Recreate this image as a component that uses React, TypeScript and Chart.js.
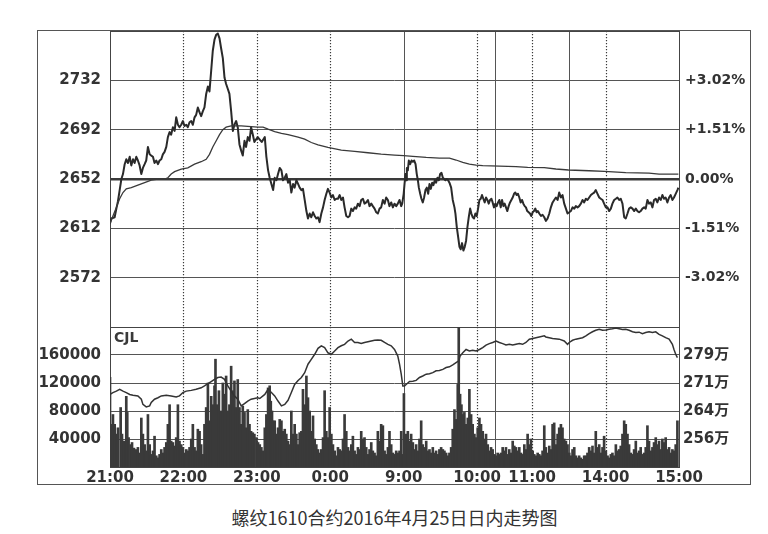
import React, { useEffect, useRef } from "react";
import { Chart, registerables } from "chart.js";

Chart.register(...registerables);

// ---------- axis / label data ----------
const timeTicks = [0, 60, 120, 180, 240, 300, 345, 405, 465]; // trading minutes since 21:00
const timeLabels = ["21:00", "22:00", "23:00", "0:00", "9:00", "10:00", "11:00", "14:00", "15:00"];
const hourLines = [60, 120, 180, 300, 345, 405]; // dotted
const sessionBreaks = [240, 315, 375]; // solid
const PRE_CLOSE = 2652;
const priceTicks = [2572, 2612, 2652, 2692, 2732];
const pctTicks = [-3.02, -1.51, 0, 1.51, 3.02];
const volTicks = [40000, 80000, 120000, 160000];
const oiTicks = [256.2, 263.8, 271.4, 279.0];
const caption = "螺纹1610合约2016年4月25日日内走势图";

// ---------- series data: [minute, value] ----------
const priceNight: number[][] = [
  [0,2616],[1.1,2620],[3.8,2621],[5.2,2628],[6.5,2634],[7.9,2643],[9.3,2652],[10.6,2656],[12,2664],[13.3,2668],
  [14.7,2665],[16.1,2670],[17.4,2663],[18.8,2668],[20.1,2665],[21.5,2670],[22.8,2667],[24.2,2663],[25.6,2656],[26.9,2661],
  [28.3,2664],[29.6,2667],[31,2678],[32.4,2672],[33.7,2671],[35.1,2670],[36.4,2665],[37.8,2667],[39.2,2664],[40.5,2667],
  [41.9,2668],[43.2,2672],[44.6,2674],[46,2678],[47.3,2686],[48.7,2690],[50,2688],[51.4,2694],[52.8,2691],[54.1,2702],
  [55.5,2696],[56.8,2694],[58.2,2696],[59.6,2699],[60.9,2695],[62.3,2696],[63.6,2694],[65,2698],[66.4,2699],[67.7,2696],
  [69.1,2702],[70.4,2704],[71.8,2710],[73.2,2706],[74.5,2703],[75.9,2707],[77.2,2710],[78.6,2721],[80,2727],[81.3,2723],
  [82.7,2740],[84,2756],[85.4,2765],[86.8,2769],[88.1,2770],[89.5,2766],[90.8,2758],[92.2,2750],[93.6,2734],[94.9,2729],
  [96.3,2725],[97.6,2721],[99,2707],[100.4,2691],[101.7,2696],[103.1,2699],[104.4,2694],[105.8,2680],[107.2,2675],[108.5,2671],
  [109.9,2683],[111.2,2678],[112.6,2686],[114,2683],[115.3,2694],[116.7,2688],[118,2682],[120.7,2686],[122.4,2684],[124,2682],
  [126.5,2686],[127.8,2670],[129.2,2659],[130.5,2653],[131.9,2648],[133.3,2643],[134.6,2653],[136,2651],[137.3,2656],[138.7,2661],
  [140.1,2659],[141.4,2651],[142.8,2653],[144.1,2656],[145.5,2649],[146.9,2651],[148.2,2641],[149.6,2648],[150.9,2645],[152.3,2651],
  [153.7,2648],[155,2645],[156.4,2643],[157.7,2644],[159.1,2635],[160.5,2626],[161.8,2620],[163.2,2624],[164.5,2621],[165.9,2625],
  [167.3,2622],[168.6,2620],[170,2621],[171.3,2617],[172.7,2624],[174.1,2629],[175.4,2635],[176.8,2640],[178.1,2644],[179.5,2641],
  [180.9,2637],[182.2,2639],[183.6,2635],[184.9,2636],[186.3,2636],[187.7,2639],[189,2635],[190.4,2637],[191.7,2629],[193.1,2622],
  [194.5,2621],[195.8,2622],[197.2,2628],[198.5,2626],[199.9,2629],[201.2,2628],[202.6,2632],[204,2630],[205.3,2635],[206.7,2636],
  [208,2632],[209.4,2633],[210.8,2635],[212.1,2630],[213.5,2632],[214.8,2630],[216.2,2628],[217.6,2625],[218.9,2624],[220.3,2628],
  [221.6,2629],[223,2635],[224.4,2632],[225.7,2637],[227.1,2635],[228.4,2630],[229.8,2633],[231.2,2629],[232.5,2632],[233.9,2630],
  [235.2,2632],[236.6,2635],[238,2630],[238.8,2632]
];

const priceDay: number[][] = [
  [240,2640],[240.7,2648],[241.5,2656],[242,2651],[242.6,2661],[243.4,2659],[244.2,2667],[245.3,2664],[246.4,2667],[247.5,2666],
  [248.6,2667],[249.7,2664],[250.7,2656],[251.6,2651],[252.4,2645],[253.5,2640],[254.5,2636],[255.6,2633],[256.7,2637],[257.8,2643],
  [258.9,2645],[260,2640],[261.1,2648],[262.2,2644],[263.3,2649],[264.3,2647],[265.4,2651],[266.5,2649],[267.6,2653],[268.7,2651],
  [269.8,2656],[270.9,2657],[272,2653],[273,2652],[274.1,2651],[275.2,2652],[276.3,2651],[277.4,2649],[278.8,2645],[280.1,2635],
  [281.5,2629],[282.3,2624],[283.4,2613],[284.5,2605],[285.6,2597],[286.6,2595],[287.7,2600],[288.8,2594],[289.9,2597],[291,2602],
  [292.1,2613],[293.2,2621],[294.3,2628],[295.3,2624],[296.4,2621],[297.5,2620],[298.6,2624],[299.7,2622],[300.8,2628],[301.9,2635],
  [303,2636],[304,2639],[305.1,2636],[306.2,2633],[307.3,2637],[308.4,2635],[309.5,2632],[310.6,2635],[311.7,2636],[312.7,2633],
  [313.8,2629],[314.9,2632],[316,2630],[317.1,2633],[318.2,2635],[319.3,2629],[320.4,2635],[321.5,2630],[322.5,2632],[323.6,2629],
  [324.7,2626],[325.8,2630],[326.9,2633],[328,2635],[329.1,2637],[330.2,2640],[331.2,2641],[332.3,2639],[333.4,2640],[334.5,2637],
  [335.6,2633],[336.7,2635],[337.8,2632],[338.9,2630],[339.9,2629],[341,2626],[342.1,2625],[343.2,2624],[344.3,2622],[345.4,2625],
  [346.5,2626],[347.6,2628],[348.6,2625],[349.7,2626],[350.8,2624],[352.2,2622],[353.5,2623],[354.9,2621],[356.2,2618],[357.6,2620],
  [359,2624],[360.3,2629],[361.7,2633],[363,2635],[364.4,2637],[365.8,2635],[367.1,2641],[368.5,2637],[369.8,2639],[371.2,2632],
  [372.6,2628],[373.9,2624],[375.3,2625],[376.6,2626],[378,2629],[379.4,2628],[380.7,2630],[382.1,2629],[383.4,2630],[384.8,2632],
  [386.2,2635],[387.5,2633],[388.9,2636],[390.2,2635],[391.6,2637],[393,2639],[394.3,2640],[395.7,2641],[397,2643],[398.4,2640],
  [399.8,2637],[401.1,2636],[402.5,2635],[403.8,2632],[405.2,2629],[406.6,2629],[407.9,2626],[409.3,2628],[410.6,2632],[412,2635],
  [413.4,2636],[414.7,2637],[416.1,2635],[417.4,2636],[418.8,2632],[420.2,2621],[421.5,2620],[422.9,2624],[424.2,2628],[425.6,2629],
  [427,2628],[428.3,2626],[429.7,2628],[431,2626],[432.4,2625],[433.7,2626],[435.1,2628],[436.5,2629],[437.8,2628],[439.2,2635],
  [440.5,2632],[441.9,2633],[443.3,2629],[444.6,2635],[446,2636],[447.3,2633],[448.7,2637],[450.1,2635],[451.4,2639],[452.8,2636],
  [454.1,2637],[455.5,2633],[456.9,2637],[458.2,2639],[459.6,2635],[460.9,2637],[462.3,2640],[463.7,2643],[464.5,2645]
];

const avgPrice: number[][] = [
  [0,2616],[2.4,2622],[5.2,2629],[7.9,2636],[10.6,2641],[13.3,2644],[17.4,2645],[22.8,2647],[28.3,2649],[33.7,2651],
  [39.2,2652],[44.6,2652],[47.3,2653],[50,2656],[52.8,2658],[58.2,2660],[63.6,2661],[69.1,2664],[74.5,2666],[78.6,2668],
  [81.3,2672],[84,2678],[86.8,2683],[89.5,2688],[92.2,2692],[94.9,2694],[99,2695],[107.2,2695],[115.3,2694.5],[120.7,2694],
  [125.1,2694],[129.2,2692.4],[134.6,2690.5],[140.1,2689],[145.5,2688],[153.7,2686],[159.1,2684.3],[164.5,2681.6],[170,2679.7],[178.1,2677.6],
  [189,2675.4],[199.9,2674.4],[210.8,2673.3],[221.6,2672.2],[232.5,2671.4],[240,2670.9],[247.5,2670.3],[258.4,2669.5],[269.2,2669],[277.4,2669],
  [282.8,2667.4],[288.3,2665.5],[293.7,2664.1],[299.2,2663.3],[304.6,2662.8],[318.2,2662.5],[331.8,2662],[341.3,2661.4],[354.9,2661.2],[364.4,2660.1],
  [374.7,2659.3],[391.6,2658.7],[404.1,2658.2],[421.5,2657.1],[440.5,2656.8],[448.7,2656],[464.5,2656]
];

const volumeNight: number[][] = [
  [0,128000],[1.1,61000],[2.4,75000],[3.8,61000],[5.2,47000],[6.5,56000],[8.7,85000],[9.8,47000],[11.4,37000],[13.3,101000],
  [14.1,78000],[15.2,42000],[16.9,32000],[18,35000],[19.6,27000],[21.5,25000],[22.8,28000],[24.2,20000],[25.6,70000],[26.9,47000],
  [28.3,32000],[29.6,23000],[31,75000],[32.4,32000],[33.7,18000],[35.1,23000],[36.4,44000],[37.8,16000],[39.2,13000],[40.5,18000],
  [41.9,25000],[43.2,20000],[44.6,28000],[46,35000],[47.3,61000],[48.7,89000],[50,37000],[51.4,35000],[52.8,30000],[54.1,42000],
  [55.5,89000],[56.8,37000],[58.2,32000],[59.6,28000],[60.9,20000],[62.3,25000],[63.6,23000],[65,28000],[66.4,40000],[67.7,61000],
  [69.1,28000],[70.4,23000],[71.8,54000],[73.2,51000],[74.5,32000],[75.9,18000],[77.2,61000],[78.6,85000],[80,120000],[81.3,66000],
  [82.7,101000],[84,89000],[85.4,116000],[86.2,154000],[87.6,89000],[89,109000],[90.8,80000],[92.2,120000],[93.6,104000],[94.9,130000],
  [96.3,80000],[97.6,89000],[99,144000],[100.4,109000],[101.7,123000],[103.1,85000],[104.4,125000],[105.8,85000],[107.2,61000],[108.5,87000],
  [109.9,78000],[111.2,56000],[112.6,82000],[114,61000],[115.3,51000],[116.7,49000],[118,47000],[119.7,42000],[121,35000],[122.4,32000],
  [123.7,28000],[125.1,23000],[126.5,56000],[127.8,75000],[129.2,113000],[130.5,116000],[131.4,94000],[132.4,80000],[133.3,66000],[134.6,66000],
  [136,47000],[137.3,56000],[138.7,68000],[140.1,66000],[141.4,51000],[142.8,54000],[144.1,47000],[145.5,37000],[146.9,32000],[148.2,80000],
  [149.6,47000],[150.9,61000],[152.3,47000],[153.7,32000],[155,49000],[156.4,51000],[157.7,111000],[159.1,89000],[160.5,130000],[161.8,99000],
  [163.2,80000],[164.5,51000],[165.9,73000],[167.3,40000],[168.6,32000],[170,25000],[171.3,20000],[172.7,25000],[174.1,42000],[175.4,109000],
  [176.8,51000],[178.1,42000],[179.5,85000],[180.9,47000],[182.2,32000],[183.6,23000],[184.9,16000],[186.3,28000],[187.7,25000],[189,23000],
  [190.4,40000],[191.7,75000],[193.1,51000],[194.5,28000],[195.8,23000],[197.2,32000],[198.5,44000],[199.9,23000],[201.2,18000],[202.6,28000],
  [204,25000],[205.3,51000],[206.7,40000],[208,42000],[209.4,28000],[210.8,18000],[212.1,25000],[213.5,35000],[214.8,23000],[216.2,20000],
  [217.6,16000],[218.9,51000],[220.3,37000],[221.6,61000],[223,59000],[224.4,23000],[225.7,18000],[227.1,28000],[228.4,51000],[229.8,32000],
  [231.2,20000],[232.5,18000],[233.9,23000],[235.2,20000],[236.6,23000],[238,51000],[239.3,18000]
];

const volumeDay: number[][] = [
  [240.2,105000],[242,47000],[243.4,51000],[244.8,37000],[246.1,47000],[247.5,35000],[248.8,25000],[250.2,32000],[251.6,23000],[252.9,40000],
  [254.3,66000],[255.6,32000],[257,28000],[258.4,37000],[259.7,23000],[261.1,25000],[262.4,20000],[263.8,28000],[265.2,20000],[266.5,23000],
  [267.9,18000],[269.2,25000],[270.6,28000],[272,25000],[273.3,23000],[274.7,20000],[276,16000],[277.4,20000],[278.8,28000],[280.1,54000],
  [281.5,82000],[282.8,68000],[284.2,118000],[285,200000],[286.1,104000],[287.2,89000],[288.3,75000],[289.6,78000],[291,61000],[292.4,70000],
  [293.7,111000],[295.1,75000],[296.4,61000],[297.8,47000],[299.2,42000],[300.5,56000],[301.9,70000],[303.2,61000],[304.6,51000],[305.9,40000],
  [307.3,47000],[308.7,32000],[310,23000],[311.4,28000],[312.7,25000],[314.1,18000],[315.5,16000],[316.8,20000],[318.2,18000],[319.5,20000],
  [320.9,28000],[322.3,23000],[323.6,28000],[325,18000],[326.3,25000],[327.7,20000],[329.1,37000],[330.4,30000],[331.8,28000],[333.1,23000],
  [334.5,28000],[335.9,20000],[337.2,18000],[338.6,32000],[339.9,25000],[341.3,47000],[342.7,32000],[344,40000],[345.4,23000],[346.7,18000],
  [348.1,16000],[349.5,20000],[350.8,18000],[352.2,16000],[353.5,23000],[354.9,59000],[356.2,28000],[357.6,20000],[359,30000],[360.3,25000],
  [361.7,61000],[363,63000],[364.4,32000],[365.8,47000],[367.1,56000],[368.5,61000],[369.8,56000],[371.2,40000],[372.6,37000],[373.9,32000],
  [375.3,20000],[376.6,16000],[378,25000],[379.4,28000],[380.7,16000],[382.1,13000],[383.4,16000],[384.8,13000],[386.2,11000],[387.5,16000],
  [388.9,16000],[390.2,20000],[391.6,28000],[393,23000],[394.3,30000],[395.7,20000],[397,51000],[398.4,28000],[399.8,32000],[401.1,20000],
  [402.5,28000],[403.8,44000],[405.2,23000],[406.6,16000],[407.9,13000],[409.3,18000],[410.6,20000],[412,16000],[413.4,32000],[414.7,23000],
  [416.1,25000],[417.4,30000],[418.8,47000],[420.2,66000],[421.5,61000],[422.9,47000],[424.2,32000],[425.6,20000],[427,18000],[428.3,25000],
  [429.7,37000],[431,20000],[432.4,23000],[433.7,28000],[435.1,18000],[436.5,20000],[437.8,28000],[439.2,59000],[440.5,37000],[441.9,23000],
  [443.3,28000],[444.6,35000],[446,42000],[447.3,32000],[448.7,37000],[450.1,25000],[451.4,40000],[452.8,35000],[454.1,42000],[455.5,25000],
  [456.9,28000],[458.2,20000],[459.6,25000],[460.9,23000],[462.3,32000],[463.7,66000]
];

// open interest, in 万 (10k contracts)
const openInterest: number[][] = [
  [0,268.3],[2.4,268.8],[5.2,269.2],[7.9,269.7],[10.6,269.2],[13.3,268.8],[16.1,268.3],[18.8,268.1],[22.8,267.9],[25.6,267.0],
  [26.9,265.6],[29.6,264.9],[32.4,265.2],[33.7,266.1],[36.4,267.0],[39.2,267.4],[41.9,267.9],[46,268.1],[50,267.9],[54.1,267.6],
  [56.8,267.9],[59.6,268.8],[62.3,269.2],[66.4,269.4],[70.4,269.7],[74.5,270.1],[77.2,270.6],[80,271.2],[82.7,271.8],[85.4,272.4],
  [88.1,272.9],[90.8,273.0],[93.6,272.4],[96.3,270.6],[99,269.2],[101.7,267.9],[104.4,267.0],[107.2,265.2],[109.9,265.8],[112.6,266.5],
  [115.3,267.0],[118,267.2],[120.7,267.4],[122.4,267.2],[126.5,268.3],[129.2,269.7],[131.9,268.8],[134.6,267.9],[137.3,266.5],[140.1,265.2],
  [142.8,265.6],[145.5,266.7],[148.2,268.8],[150.9,271.0],[153.7,272.1],[156.4,272.9],[159.1,274.2],[161.8,276.5],[164.5,277.8],[167.3,279.2],
  [170,280.8],[172.7,281.5],[175.4,281.0],[178.1,279.6],[180.9,279.2],[183.6,280.1],[186.3,281.0],[189,281.5],[191.7,281.9],[194.5,282.8],
  [197.2,283.3],[199.9,282.4],[202.6,282.4],[205.3,282.1],[208,282.4],[210.8,282.6],[213.5,282.8],[216.2,283.0],[218.9,283.1],[221.6,283.0],
  [224.4,282.4],[227.1,281.9],[229.8,281.5],[232.5,280.5],[235.2,278.7],[236.6,276.5],[238,273.8],[239.3,270.6],[240.7,270.6],[242,271.0],
  [244.8,271.8],[247.5,271.9],[250.2,272.1],[252.9,272.9],[255.6,273.3],[258.4,273.8],[261.1,273.9],[263.8,274.2],[266.5,274.7],[269.2,274.8],
  [272,275.1],[274.7,275.6],[277.4,275.8],[280.1,276.3],[282.8,276.9],[285,277.4],[286.1,278.7],[288.3,279.6],[291,280.5],[293.7,280.1],
  [296.4,280.3],[299.2,280.1],[301.9,280.5],[304.6,281.0],[307.3,281.7],[310,282.1],[312.7,282.4],[315.5,282.8],[318.2,282.4],[320.9,282.1],
  [323.6,281.7],[326.3,281.9],[329.1,281.7],[331.8,281.9],[334.5,282.1],[337.2,281.9],[339.9,282.4],[342.7,283.3],[345.4,283.5],[348.1,283.7],
  [350.8,283.9],[354.9,284.2],[356.2,283.9],[361.7,283.5],[367.1,283.3],[371.2,282.8],[373.9,281.9],[375.3,282.4],[378,283.0],[380.7,283.3],
  [383.4,283.5],[386.2,283.7],[388.9,284.2],[391.6,284.8],[394.3,285.3],[397,285.7],[399.8,286.0],[402.5,285.7],[405.2,285.8],[407.9,286.0],
  [410.6,286.1],[413.4,286.3],[416.1,286.1],[418.8,285.9],[421.5,286.0],[424.2,285.7],[427,285.3],[429.7,285.1],[432.4,285.2],[435.1,284.8],
  [437.8,285.1],[440.5,285.3],[443.3,285.1],[446,285.3],[448.7,284.6],[451.4,284.2],[454.1,283.7],[456.9,283.3],[459.6,281.9],[460.9,280.5],
  [462.3,279.2],[463.7,278.3]
];

// ---------- styling ----------
const FONT = "'DejaVu Sans', 'Noto Sans CJK SC', sans-serif";
const INK = "#333333";
const GRID = "#555555";
const PRICE_SPAN = 120; // ± around previous close
const OI_MIN = 248.6;
const OI_MAX = 286.6;

const toXY = (pts: number[][]) => pts.map(([x, y]) => ({ x, y }));

const fixWidth = (w: number) => (s: any) => {
  s.width = w;
  s.paddingTop = 0;
  s.paddingBottom = 0;
};

const panelPlugin = (label?: string) => ({
  id: "panelFrame",
  beforeDatasetsDraw(chart: any) {
    const { ctx, chartArea: a, scales } = chart;
    const xs = scales.x;
    ctx.save();
    ctx.strokeStyle = "#3a3a3a";
    ctx.lineWidth = 1.2;
    ctx.setLineDash([1.3, 1.7]);
    for (const m of hourLines) {
      const px = Math.round(xs.getPixelForValue(m)) + 0.5;
      ctx.beginPath();
      ctx.moveTo(px, a.top);
      ctx.lineTo(px, a.bottom);
      ctx.stroke();
    }
    ctx.setLineDash([]);
    ctx.lineWidth = 1;
    ctx.strokeStyle = GRID;
    for (const m of sessionBreaks) {
      const px = Math.round(xs.getPixelForValue(m)) + 0.5;
      ctx.beginPath();
      ctx.moveTo(px, a.top);
      ctx.lineTo(px, a.bottom);
      ctx.stroke();
    }
    ctx.strokeStyle = "#444";
    ctx.strokeRect(Math.round(a.left) + 0.5, Math.round(a.top) + 0.5, Math.round(a.right - a.left), Math.round(a.bottom - a.top));
    if (label) {
      ctx.fillStyle = "#3a3a3a";
      ctx.font = `bold 14px ${FONT}`;
      ctx.textBaseline = "alphabetic";
      ctx.textAlign = "left";
      ctx.fillText(label, a.left + 4, a.top + 15);
    }
    ctx.restore();
  },
});

const tickFont = (size: number) => ({ family: FONT, size, weight: "bold" as const });

export default function App() {
  const priceRef = useRef<HTMLCanvasElement>(null);
  const volRef = useRef<HTMLCanvasElement>(null);

  useEffect(() => {
    const common = {
      animation: false as const,
      responsive: true,
      maintainAspectRatio: false,
      events: [] as any[],
      plugins: { legend: { display: false }, tooltip: { enabled: false } },
    };

    const c1 = new Chart(priceRef.current!, {
      type: "line",
      data: {
        datasets: [
          {
            data: toXY(avgPrice),
            borderColor: "#3a3a3a",
            borderWidth: 1.3,
            pointRadius: 0,
            tension: 0,
            yAxisID: "y",
          },
          {
            data: toXY([...priceNight, ...priceDay]),
            borderColor: "#2a2a2a",
            borderWidth: 2,
            borderJoinStyle: "round",
            pointRadius: 0,
            tension: 0,
            yAxisID: "y",
          },
        ],
      },
      options: {
        ...common,
        layout: { padding: { top: 1, bottom: 1, left: 0, right: 0 } },
        scales: {
          x: { type: "linear", display: false, min: 0, max: 465 },
          y: {
            type: "linear",
            position: "left",
            min: PRE_CLOSE - PRICE_SPAN,
            max: PRE_CLOSE + PRICE_SPAN,
            afterBuildTicks: (s: any) => {
              s.ticks = priceTicks.map((v) => ({ value: v }));
            },
            afterFit: fixWidth(73),
            ticks: { font: tickFont(15), color: INK, padding: 9, callback: (v: any) => String(v) },
            grid: {
              color: (c: any) => (c.tick && c.tick.value === PRE_CLOSE ? "#3a3a3a" : GRID),
              lineWidth: (c: any) => (c.tick && c.tick.value === PRE_CLOSE ? 2.6 : 1),
              drawTicks: false,
            },
            border: { display: false },
          },
          y2: {
            type: "linear",
            position: "right",
            min: (-PRICE_SPAN / PRE_CLOSE) * 100,
            max: (PRICE_SPAN / PRE_CLOSE) * 100,
            afterBuildTicks: (s: any) => {
              s.ticks = pctTicks.map((v) => ({ value: v }));
            },
            afterFit: fixWidth(72),
            ticks: {
              font: tickFont(14),
              color: INK,
              padding: 6,
              callback: (v: any) => (v > 0 ? "+" : "") + Number(v).toFixed(2) + "%",
            },
            grid: { display: false, drawTicks: false },
            border: { display: false },
          },
        },
      },
      plugins: [panelPlugin()],
    } as any);

    const c2 = new Chart(volRef.current!, {
      type: "bar",
      data: {
        datasets: [
          {
            type: "line",
            data: toXY(openInterest),
            borderColor: "#333",
            borderWidth: 1.5,
            pointRadius: 0,
            tension: 0,
            yAxisID: "yo",
            order: 0,
          },
          {
            type: "bar",
            data: toXY([...volumeNight, ...volumeDay]),
            backgroundColor: "#3a3a3a",
            borderWidth: 0,
            barThickness: 2,
            grouped: false,
            yAxisID: "yv",
            order: 1,
          },
        ],
      },
      options: {
        ...common,
        layout: { padding: { top: 1, bottom: 0, left: 0, right: 0 } },
        scales: {
          x: {
            type: "linear",
            min: 0,
            max: 465,
            offset: false,
            afterBuildTicks: (s: any) => {
              s.ticks = timeTicks.map((v) => ({ value: v }));
            },
            afterFit: (s: any) => {
              s.height = 18;
              s.paddingLeft = 0;
              s.paddingRight = 0;
            },
            ticks: {
              font: tickFont(15),
              color: INK,
              padding: 2,
              autoSkip: false,
              maxRotation: 0,
              callback: (v: any) => {
                const i = timeTicks.indexOf(Number(v));
                return i >= 0 ? timeLabels[i] : "";
              },
            },
            grid: { display: false, drawTicks: false },
            border: { display: false },
          },
          yv: {
            type: "linear",
            position: "left",
            min: 0,
            max: 200000,
            afterBuildTicks: (s: any) => {
              s.ticks = volTicks.map((v) => ({ value: v }));
            },
            afterFit: fixWidth(73),
            ticks: { font: tickFont(15), color: INK, padding: 9, callback: (v: any) => String(v) },
            grid: { color: GRID, lineWidth: 1, drawTicks: false },
            border: { display: false },
          },
          yo: {
            type: "linear",
            position: "right",
            min: OI_MIN,
            max: OI_MAX,
            afterBuildTicks: (s: any) => {
              s.ticks = oiTicks.map((v) => ({ value: v }));
            },
            afterFit: fixWidth(72),
            ticks: {
              font: tickFont(15),
              color: INK,
              padding: 4,
              callback: (v: any) => Math.round(Number(v)) + "万",
            },
            grid: { display: false, drawTicks: false },
            border: { display: false },
          },
        },
      },
      plugins: [panelPlugin("CJL")],
    } as any);

    return () => {
      c1.destroy();
      c2.destroy();
    };
  }, []);

  return (
    <div style={{ position: "absolute", left: 0, top: 0, width: 768, height: 534, background: "#fff", overflow: "hidden" }}>
      <div
        style={{
          position: "absolute",
          left: 37,
          top: 30,
          width: 714,
          height: 455,
          border: "1px solid #555",
          boxSizing: "border-box",
        }}
      />
      <div style={{ position: "absolute", left: 37, top: 30, width: 714, height: 298 }}>
        <canvas ref={priceRef} />
      </div>
      <div style={{ position: "absolute", left: 37, top: 326, width: 714, height: 159 }}>
        <canvas ref={volRef} />
      </div>
      <div
        style={{
          position: "absolute",
          left: 194.5,
          width: 400,
          top: 508,
          textAlign: "center",
          fontFamily: "'Noto Sans CJK SC', sans-serif",
          fontSize: 18,
          lineHeight: "18px",
          color: "#333",
        }}
      >
        {caption}
      </div>
    </div>
  );
}
